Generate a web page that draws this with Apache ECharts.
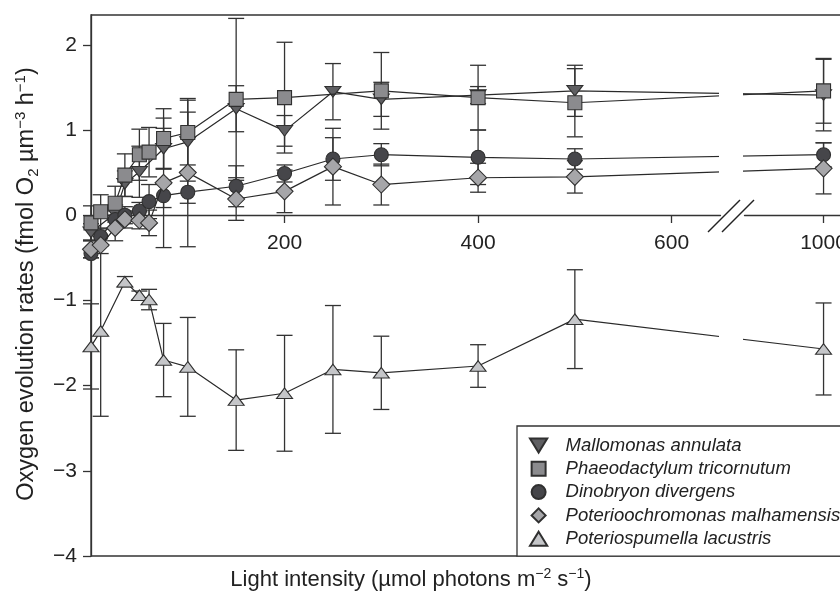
<!DOCTYPE html>
<html>
<head>
<meta charset="utf-8">
<script src="https://cdn.jsdelivr.net/npm/echarts@6/dist/echarts.min.js"></script>
<style>
html,body{margin:0;padding:0;background:#fff;}
#c{width:840px;height:594px;}
</style>
</head>
<body>
<div id="c"></div>
<script>
// ---- data (light intensity, rate, error) ----
const speciesNames = ['Mallomonas annulata','Phaeodactylum tricornutum','Dinobryon divergens','Poterioochromonas malhamensis','Poteriospumella lacustris'];

const mallomonasX   = [0, 25, 35, 50, 75, 100, 150, 200, 250, 300, 400, 500, 1000];
const mallomonasY   = [-0.20, 0.02, 0.37, 0.51, 0.78, 0.86, 1.25, 0.99, 1.45, 1.36, 1.41, 1.46, 1.41];
const mallomonasErr = [0.10, 0.10, 0.15, 0.30, 0.24, 0.35, 0.27, 0.18, 0.33, 0.20, 0.10, 0.30, 0.42];

const phaeoX   = [0, 10, 25, 35, 50, 60, 75, 100, 150, 200, 300, 400, 500, 1000];
const phaeoY   = [-0.09, 0.04, 0.14, 0.47, 0.71, 0.74, 0.90, 0.97, 1.36, 1.38, 1.46, 1.38, 1.32, 1.46];
const phaeoErr = [0.20, 0.20, 0.20, 0.25, 0.30, 0.29, 0.35, 0.38, 0.95, 0.65, 0.45, 0.38, 0.40, 0.38];

const dinoX   = [0, 10, 25, 35, 50, 60, 75, 100, 150, 200, 250, 300, 400, 500, 1000];
const dinoY   = [-0.45, -0.25, -0.05, 0.00, 0.05, 0.16, 0.23, 0.27, 0.34, 0.49, 0.66, 0.71, 0.68, 0.66, 0.71];
const dinoErr = [0.05, 0.10, 0.10, 0.10, 0.10, 0.20, 0.14, 0.13, 0.24, 0.10, 0.25, 0.13, 0.32, 0.12, 0.14];

const poterioX   = [0, 10, 25, 35, 50, 60, 75, 100, 150, 200, 250, 300, 400, 500, 1000];
const poterioY   = [-0.40, -0.35, -0.15, -0.05, -0.06, -0.09, 0.38, 0.50, 0.19, 0.28, 0.57, 0.36, 0.44, 0.45, 0.55];
const poterioErr = [0.10, 0.10, 0.15, 0.10, 0.10, 0.15, 0.76, 0.87, 0.25, 0.25, 0.45, 0.24, 0.17, 0.19, 0.30];

const spumX   = [0, 10, 35, 50, 60, 75, 100, 150, 200, 250, 300, 400, 500, 1000];
const spumY   = [-1.54, -1.36, -0.78, -0.94, -0.99, -1.70, -1.78, -2.17, -2.09, -1.81, -1.85, -1.77, -1.22, -1.57];
const spumErr = [0.50, 1.00, 0.06, 0.05, 0.12, 0.43, 0.58, 0.59, 0.68, 0.75, 0.43, 0.25, 0.58, 0.54];

const xTickValues = [200, 400, 600, 1000];
const yTickValues = [-4, -3, -2, -1, 0, 1, 2];
const yMin = -4, yMax = 2.35;

// ---- styling ----
const fills = ['#5f5f62', '#8b8b8e', '#46464a', '#a6a6a9', '#c5c6c9'];
const symbols = [
  'path://M0,0L16,0L8,13Z',
  'path://M0,0L10,0L10,10L0,10Z',
  'circle',
  'path://M5,0L10,5L5,10L0,5Z',
  'path://M8,0L16,13L0,13Z'
];
const sizes = [[16,13], 14, 14, 17, [16,13]];
const ink = '#2a2a2a';
const FONT = 'Liberation Sans, Arial, Helvetica, sans-serif';

const xs = [mallomonasX, phaeoX, dinoX, poterioX, spumX];
const ys = [mallomonasY, phaeoY, dinoY, poterioY, spumY];
const es = [mallomonasErr, phaeoErr, dinoErr, poterioErr, spumErr];

function pairs(xa, ya) { return xa.map((x, i) => [x, ya[i]]); }
function triples(xa, ya, ea) { return xa.map((x, i) => [x, ya[i], ea[i]]); }

const series = [];
// error bars
speciesNames.forEach((n, k) => {
  series.push({
    type: 'custom',
    name: n + ' err',
    z: 1,
    silent: true,
    data: triples(xs[k], ys[k], es[k]),
    renderItem: function (params, api) {
      const x = api.value(0), y = api.value(1), e = api.value(2);
      const t = api.coord([x, y + e]);
      const b = api.coord([x, y - e]);
      const hw = 8;
      const st = { stroke: '#333', lineWidth: 1.3 };
      return {
        type: 'group',
        children: [
          { type: 'line', shape: { x1: t[0], y1: t[1], x2: b[0], y2: b[1] }, style: st },
          { type: 'line', shape: { x1: t[0] - hw, y1: t[1], x2: t[0] + hw, y2: t[1] }, style: st },
          { type: 'line', shape: { x1: b[0] - hw, y1: b[1], x2: b[0] + hw, y2: b[1] }, style: st }
        ]
      };
    }
  });
});
// lines + markers
speciesNames.forEach((n, k) => {
  series.push({
    type: 'line',
    name: n,
    z: 3 + k,
    data: pairs(xs[k], ys[k]),
    symbol: symbols[k],
    symbolSize: sizes[k],
    symbolKeepAspect: true,
    showAllSymbol: true,
    lineStyle: { color: ink, width: 1.2 },
    itemStyle: { color: fills[k], borderColor: '#303030', borderWidth: 1.1, opacity: 1 },
    emphasis: { disabled: true },
    animation: false
  });
});

const chart = echarts.init(document.getElementById('c'), null, { renderer: 'canvas' });
chart.setOption({
  animation: false,
  backgroundColor: '#fff',
  grid: { left: 91, top: 15, right: -30, bottom: 38, show: true, borderColor: '#333', borderWidth: 1.3,
          containLabel: false, outerBoundsMode: 'none' },
  legend: {
    data: speciesNames.map((n, k) => ({ name: n, icon: symbols[k] })),
    orient: 'vertical',
    left: 517,
    top: 426,
    padding: [10, 40, 8, 12],
    itemWidth: 36,
    itemHeight: 14,
    itemGap: 4.3,
    borderColor: '#333',
    borderWidth: 1.3,
    backgroundColor: '#fff',
    selectedMode: false,
    z: 20,
    textStyle: { fontFamily: FONT, fontSize: 18.5, fontStyle: 'italic', color: '#222', padding: [0, 0, 0, 4] }
  },
  xAxis: {
    type: 'value',
    min: 0,
    max: 1048,
    position: 'bottom',
    offset: -341,
    breaks: [{ start: 650, end: 918, gap: 25 }],
    breakArea: { show: false },
    axisLine: { onZero: false, lineStyle: { color: '#333', width: 1.3 } },
    axisTick: { show: true, length: 8, customValues: xTickValues, lineStyle: { color: '#333', width: 1.3 } },
    axisLabel: { customValues: xTickValues, fontFamily: FONT, fontSize: 21, color: '#222', margin: 18,
      formatter: v => String(v) },
    splitLine: { show: false }
  },
  yAxis: {
    type: 'value',
    min: yMin,
    max: yMax,
    interval: 1,
    axisLine: { show: true, onZero: false, lineStyle: { color: '#333', width: 1.3 } },
    axisTick: { show: true, length: 8, customValues: yTickValues, lineStyle: { color: '#333', width: 1.3 } },
    axisLabel: { customValues: yTickValues, fontFamily: FONT, fontSize: 21, color: '#222', margin: 14,
      formatter: v => (v < 0 ? '\u2212' + Math.abs(v) : String(v)) },
    splitLine: { show: false }
  },
  graphic: [
    // gap in the data lines at the axis break
    { type: 'rect', z: 50, shape: { x: 719, y: 17, width: 24, height: 196 }, style: { fill: '#fff' } },
    { type: 'rect', z: 50, shape: { x: 719, y: 218, width: 24, height: 200 }, style: { fill: '#fff' } },
    { type: 'line', z: 51, shape: { x1: 708, y1: 232, x2: 740, y2: 200 }, style: { stroke: '#222', lineWidth: 1.4 } },
    { type: 'line', z: 51, shape: { x1: 722, y1: 232, x2: 754, y2: 200 }, style: { stroke: '#222', lineWidth: 1.4 } },
    {
      type: 'text', z: 51, x: 411, y: 580,
      style: {
        text: '{n|Light intensity (µmol photons m}{s|\u22122}{n| s}{s|\u22121}{n|)}',
        fontFamily: FONT, fill: '#222', align: 'center', verticalAlign: 'middle',
        rich: {
          n: { fontFamily: FONT, fontSize: 22, lineHeight: 26, fill: '#222', verticalAlign: 'middle' },
          s: { fontFamily: FONT, fontSize: 14, lineHeight: 26, fill: '#222', verticalAlign: 'top' }
        }
      }
    },
    {
      type: 'text', z: 51, x: 27, y: 284, rotation: Math.PI / 2,
      style: {
        text: '{n|Oxygen evolution rates (fmol O}{b|2}{n| µm}{s|\u22123}{n| h}{s|\u22121}{n|)}',
        fontFamily: FONT, fill: '#222', align: 'center', verticalAlign: 'middle',
        rich: {
          n: { fontFamily: FONT, fontSize: 23.5, lineHeight: 28, fill: '#222', verticalAlign: 'middle' },
          s: { fontFamily: FONT, fontSize: 15, lineHeight: 28, fill: '#222', verticalAlign: 'top' },
          b: { fontFamily: FONT, fontSize: 15, lineHeight: 28, fill: '#222', verticalAlign: 'bottom' }
        }
      }
    }
  ],
  series: series
});
</script>
</body>
</html>
